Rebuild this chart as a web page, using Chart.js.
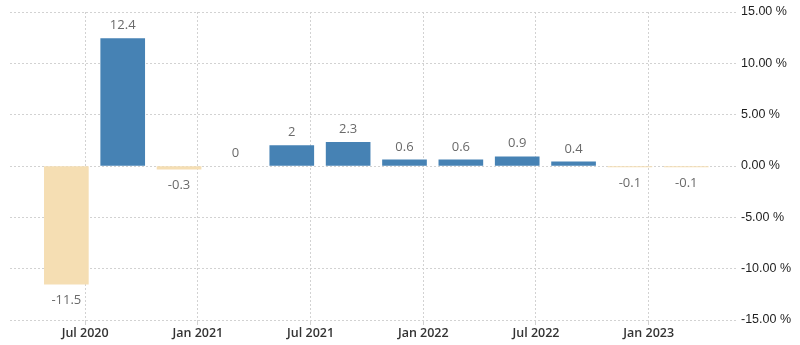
<!DOCTYPE html>
<html>
<head>
<meta charset="utf-8">
<script src="https://cdn.jsdelivr.net/npm/chart.js@4/dist/chart.umd.min.js"></script>
<style>
  html, body { margin: 0; padding: 0; background: #fff; }
  #wrap { width: 800px; height: 345px; position: relative; }
</style>
</head>
<body>
<div id="wrap"><canvas id="gdpChart"></canvas></div>
<script>
// Quarterly growth, % change on previous quarter
const periods = ['2020-06', '2020-09', '2020-12', '2021-03', '2021-06', '2021-09',
                 '2021-12', '2022-03', '2022-06', '2022-09', '2022-12', '2023-03'];
const growth = [-11.5, 12.4, -0.3, 0, 2, 2.3, 0.6, 0.6, 0.9, 0.4, -0.1, -0.1];

// x axis ticks (months since Jan 2020)
const xTickMonths = [6, 12, 18, 24, 30, 36];
const xTickLabels = ['Jul 2020', 'Jan 2021', 'Jul 2021', 'Jan 2022', 'Jul 2022', 'Jan 2023'];

// y axis ticks
const yTicks = [-15, -10, -5, 0, 5, 10, 15];

const toMonth = p => {
    const [y, m] = p.split('-').map(Number);
    return (y - 2020) * 12 + (m - 1);
};

const points = periods.map((p, i) => ({ x: toMonth(p), y: growth[i] }));

const barColor = v => v > 0 ? '#4682b4' : (v < 0 ? '#f5deb3' : 'rgba(0,0,0,0)');

const valueLabels = {
    id: 'valueLabels',
    afterDatasetsDraw(chart) {
        const ctx = chart.ctx;
        const meta = chart.getDatasetMeta(0);
        ctx.save();
        ctx.font = '13px "Open Sans"';
        ctx.fillStyle = '#6a6a6a';
        ctx.textAlign = 'center';
        ctx.textBaseline = 'middle';
        meta.data.forEach((bar, i) => {
            const v = growth[i];
            const y = v >= 0 ? bar.y - 13 : bar.y + 16;
            ctx.fillText(String(v), bar.x, y);
        });
        ctx.restore();
    }
};

new Chart(document.getElementById('gdpChart'), {
    type: 'bar',
    data: {
        datasets: [{
            data: points,
            backgroundColor: growth.map(barColor),
            borderWidth: 0,
            barThickness: 44
        }]
    },
    options: {
        responsive: true,
        maintainAspectRatio: false,
        animation: false,
        layout: { padding: { left: 10, top: 12, right: 0, bottom: 0 } },
        plugins: { legend: { display: false }, tooltip: { enabled: false } },
        scales: {
            x: {
                type: 'linear',
                min: 2,
                max: 40.7,
                offset: false,
                afterBuildTicks: scale => {
                    scale.ticks = xTickMonths.map(v => ({ value: v }));
                },
                afterFit: scale => { scale.height = 25; },
                grid: { color: '#d2d2d2', tickLength: 5, offset: false },
                border: { display: false, dash: [2, 2] },
                ticks: {
                    padding: 1,
                    color: '#333',
                    font: { family: 'Open Sans', size: 12.5, weight: '600' },
                    maxRotation: 0,
                    callback: v => xTickLabels[xTickMonths.indexOf(v)]
                }
            },
            y: {
                position: 'right',
                min: -15,
                max: 15,
                afterBuildTicks: scale => {
                    scale.ticks = yTicks.map(v => ({ value: v }));
                },
                afterFit: scale => { scale.width = 63; },
                grid: { color: '#d2d2d2', drawTicks: false },
                border: { display: false, dash: [2, 2] },
                ticks: {
                    padding: 4,
                    crossAlign: 'near',
                    color: '#1e1e1e',
                    font: { family: 'Liberation Sans', size: 12.5 },
                    callback: v => v.toFixed(2) + ' %'
                }
            }
        }
    },
    plugins: [valueLabels]
});
</script>
</body>
</html>
